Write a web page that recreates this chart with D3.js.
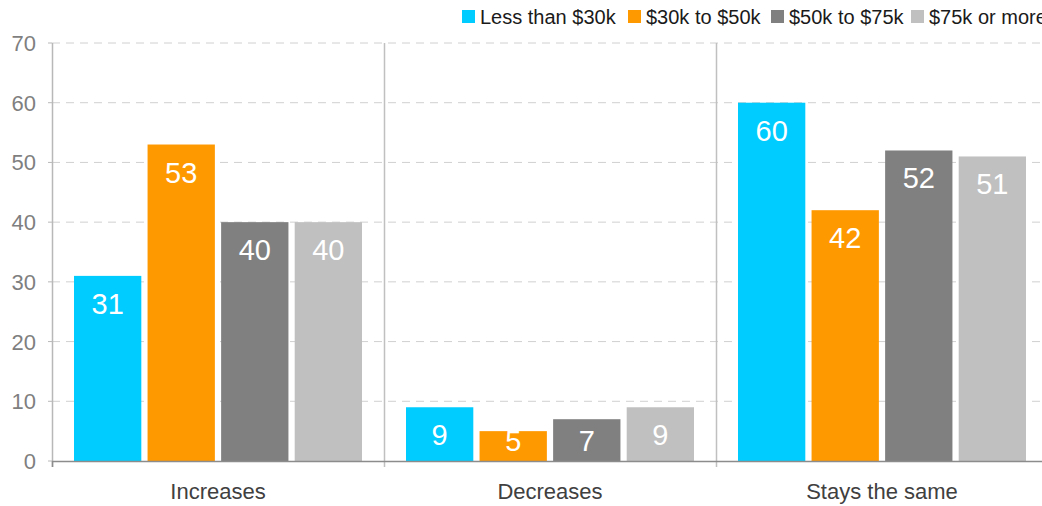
<!DOCTYPE html>
<html>
<head>
<meta charset="utf-8">
<script src="https://cdn.jsdelivr.net/npm/d3@7"></script>
<style>
  body { margin: 0; background: #fff; }
  text { font-family: "Liberation Sans", Arial, sans-serif; }
</style>
</head>
<body>
<div id="canvas"></div>
<script>
"use strict"

/* chart data */
let categories = ["Increases", "Decreases", "Stays the same"];
let seriesNames = ["Less than $30k", "$30k to $50k", "$50k to $75k", "$75k or more"];
let seriesColors = ["#00CCFF", "#FF9900", "#808080", "#C0C0C0"];
let lessThan30k = [31, 9, 60];
let from30kTo50k = [53, 5, 42];
let from50kTo75k = [40, 7, 52];
let over75k = [40, 9, 51];
let yTicks = [0, 10, 20, 30, 40, 50, 60, 70];

let seriesValues = [lessThan30k, from30kTo50k, from50kTo75k, over75k];

let drawing = d3.select("#canvas")
    .append("svg")
    .attr("width", 1042)
    .attr("height", 506);

/* scales */
let x = d3.scaleBand()
    .domain(categories)
    .range([52, 1048])
    .paddingInner(0)
    .paddingOuter(0);

let xInner = d3.scaleBand()
    .domain(seriesNames)
    .range([22, x.bandwidth() - 22])
    .paddingInner(0.085)
    .paddingOuter(0);

let y = d3.scaleLinear()
    .domain([0, 70])
    .range([461, 43]);

/* dashed gridlines */
drawing.append("g")
    .selectAll("line")
    .data(yTicks.slice(1))
    .join("line")
    .attr("x1", 52)
    .attr("x2", 1048)
    .attr("y1", d => y(d))
    .attr("y2", d => y(d))
    .attr("stroke", "#d0d0d0")
    .attr("stroke-width", 1)
    .attr("stroke-dasharray", "8,6");

/* category separators */
drawing.append("g")
    .selectAll("line")
    .data(categories.slice(1))
    .join("line")
    .attr("x1", d => Math.round(x(d)) + 0.5)
    .attr("x2", d => Math.round(x(d)) + 0.5)
    .attr("y1", y(70))
    .attr("y2", y(0) + 6)
    .attr("stroke", "#c0c0c0")
    .attr("stroke-width", 1.5);

/* y axis line */
drawing.append("line")
    .attr("x1", 52.5)
    .attr("x2", 52.5)
    .attr("y1", y(70))
    .attr("y2", y(0) + 6)
    .attr("stroke", "#b8b8b8")
    .attr("stroke-width", 1.5);

/* short ticks on y axis */
drawing.append("g")
    .selectAll("line")
    .data(yTicks)
    .join("line")
    .attr("x1", 48)
    .attr("x2", 52)
    .attr("y1", d => y(d))
    .attr("y2", d => y(d))
    .attr("stroke", "#b8b8b8");

/* y tick labels */
drawing.append("g")
    .selectAll("text")
    .data(yTicks)
    .join("text")
    .attr("x", 36)
    .attr("y", d => y(d) + 8)
    .attr("text-anchor", "end")
    .attr("font-size", 22)
    .attr("fill", "#7f7f7f")
    .text(d => d);

/* bars */
let groups = drawing.append("g")
    .selectAll("g")
    .data(categories)
    .join("g")
    .attr("transform", d => `translate(${x(d)},0)`);

groups.selectAll("rect")
    .data((d, ci) => seriesNames.map((s, si) => ({ s: s, v: seriesValues[si][ci], c: seriesColors[si] })))
    .join("rect")
    .attr("x", d => xInner(d.s))
    .attr("width", xInner.bandwidth())
    .attr("y", d => y(d.v))
    .attr("height", d => y(0) - y(d.v))
    .attr("fill", d => d.c);

/* data labels */
groups.selectAll("text")
    .data((d, ci) => seriesNames.map((s, si) => ({ s: s, v: seriesValues[si][ci] })))
    .join("text")
    .attr("x", d => xInner(d.s) + xInner.bandwidth() / 2)
    .attr("y", d => Math.min(y(d.v) + 38, y(0) - 10))
    .attr("text-anchor", "middle")
    .attr("font-size", 29)
    .attr("fill", "#ffffff")
    .text(d => d.v);

/* x axis line */
drawing.append("line")
    .attr("x1", 52)
    .attr("x2", 1048)
    .attr("y1", y(0) + 0.5)
    .attr("y2", y(0) + 0.5)
    .attr("stroke", "#8c8c8c")
    .attr("stroke-width", 1.5);

drawing.append("line")
    .attr("x1", 52.5)
    .attr("x2", 52.5)
    .attr("y1", y(0))
    .attr("y2", y(0) + 6)
    .attr("stroke", "#8c8c8c")
    .attr("stroke-width", 1.5);

/* category labels */
drawing.append("g")
    .selectAll("text")
    .data(categories)
    .join("text")
    .attr("x", d => x(d) + x.bandwidth() / 2)
    .attr("y", 499)
    .attr("text-anchor", "middle")
    .attr("font-size", 22)
    .attr("fill", "#404040")
    .text(d => d);

/* legend, runs off the right edge like the original */
let legendX = [462, 628, 771, 911];
let legend = drawing.append("g")
    .selectAll("g")
    .data(seriesNames)
    .join("g")
    .attr("transform", (d, i) => `translate(${legendX[i]},10)`);

legend.append("rect")
    .attr("width", 13)
    .attr("height", 13)
    .attr("fill", (d, i) => seriesColors[i]);

legend.append("text")
    .attr("x", 18)
    .attr("y", 14)
    .attr("font-size", 20)
    .attr("fill", "#1a1a1a")
    .text(d => d);
</script>
</body>
</html>
